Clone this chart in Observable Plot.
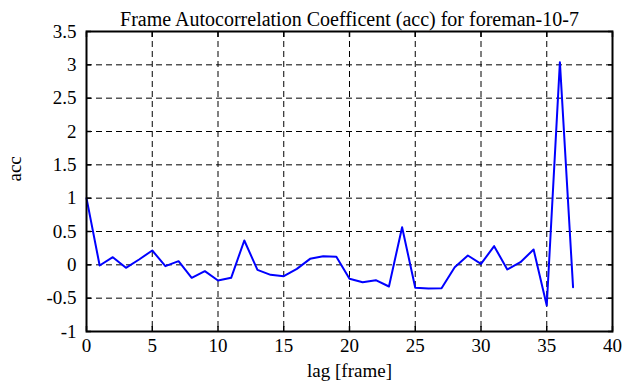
<!DOCTYPE html>
<html>
<head>
<meta charset="utf-8">
<script src="https://cdn.jsdelivr.net/npm/d3@7"></script>
<script src="https://cdn.jsdelivr.net/npm/@observablehq/plot@0.6"></script>
<style>
  html, body { margin: 0; padding: 0; background: #fff; }
  svg { display: block; }
</style>
</head>
<body>
<div id="chart"></div>
<script>
const lags = [0,1,2,3,4,5,6,7,8,9,10,11,12,13,14,15,16,17,18,19,20,21,22,23,24,25,26,27,28,29,30,31,32,33,34,35,36,37];
const acc = [1.0,-0.01,0.115,-0.045,0.08,0.215,-0.02,0.055,-0.195,-0.095,-0.235,-0.195,0.365,-0.075,-0.15,-0.17,-0.06,0.09,0.13,0.12,-0.21,-0.26,-0.23,-0.325,0.565,-0.345,-0.355,-0.35,-0.035,0.14,0.015,0.28,-0.07,0.04,0.23,-0.61,3.04,-0.335];
const xTicks = [0,5,10,15,20,25,30,35,40];
const yTicks = [-1,-0.5,0,0.5,1,1.5,2,2.5,3,3.5];
const xGrid = [5,10,15,20,25,30,35];
const yGrid = [-0.5,0,0.5,1,1.5,2,2.5,3];
const title = "Frame Autocorrelation Coefficent (acc) for foreman-10-7";
const xLabel = "lag [frame]";
const yLabel = "acc";

const data = lags.map((l, i) => ({lag: l, acc: acc[i]}));
const font = "'Liberation Serif', 'Times New Roman', serif";

const chart = Plot.plot({
  width: 635,
  height: 387,
  marginLeft: 86,
  marginRight: 23,
  marginTop: 31,
  marginBottom: 56,
  style: {fontFamily: font, fontSize: "19px", color: "black", background: "white"},
  x: {domain: [0, 40], axis: null},
  y: {domain: [-1, 3.5], axis: null},
  marks: [
    Plot.gridX(xGrid, {stroke: "black", strokeOpacity: 1, strokeDasharray: "6,4", strokeWidth: 1}),
    Plot.gridY(yGrid, {stroke: "black", strokeOpacity: 1, strokeDasharray: "6,4", strokeWidth: 1}),
    Plot.line(data, {x: "lag", y: "acc", stroke: "#0000ff", strokeWidth: 2}),
    // inward ticks
    Plot.axisX(xTicks, {anchor: "bottom", tickSize: 5, dy: -5, text: null, label: null, strokeWidth: 1.5}),
    Plot.axisX(xTicks, {anchor: "top", tickSize: 5, dy: 5, text: null, label: null, strokeWidth: 1.5}),
    Plot.axisY(yTicks, {anchor: "left", tickSize: 5, dx: 5, text: null, label: null, strokeWidth: 1.5}),
    Plot.axisY(yTicks, {anchor: "right", tickSize: 5, dx: -5, text: null, label: null, strokeWidth: 1.5}),
    // tick labels
    Plot.text(xTicks, {x: d => d, frameAnchor: "bottom", dy: 20, fontSize: 19, fontFamily: font, text: d => String(d)}),
    Plot.text(yTicks, {y: d => d, frameAnchor: "left", dx: -10, textAnchor: "end", fontSize: 19, fontFamily: font, text: d => String(d)}),
    Plot.frame({stroke: "black", strokeWidth: 2}),
    Plot.text([title], {frameAnchor: "top", dy: -20, fontSize: 20, fontFamily: font, text: d => d}),
    Plot.text([xLabel], {frameAnchor: "bottom", dy: 45, fontSize: 19, fontFamily: font, text: d => d}),
    Plot.text([yLabel], {frameAnchor: "left", dx: -72, rotate: -90, fontSize: 19, fontFamily: font, text: d => d})
  ]
});
document.getElementById("chart").appendChild(chart);
</script>
</body>
</html>
